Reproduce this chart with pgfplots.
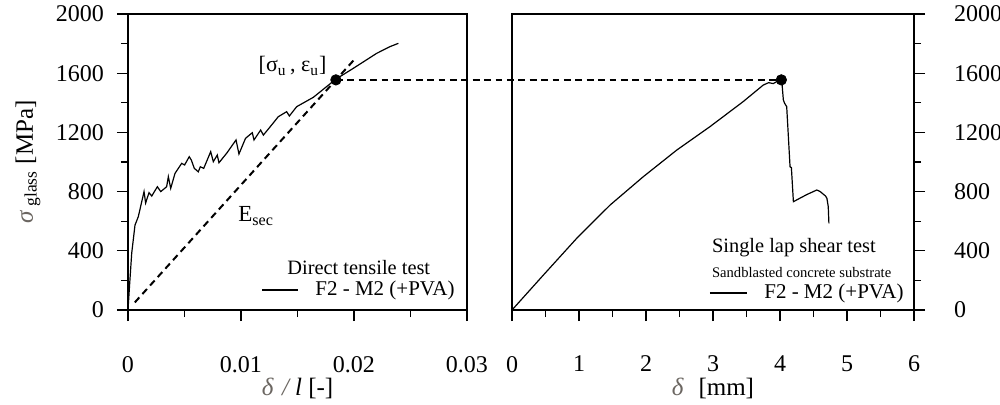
\documentclass[border=0pt]{standalone}
\usepackage{fontspec}
\setmainfont{Liberation Serif}
\usepackage{pgfplots}
\pgfplotsset{compat=1.18}
\definecolor{lblgray}{rgb}{0.42,0.40,0.38}
\begin{document}
\begin{tikzpicture}
\pgfplotsset{
  myax/.style={
    scale only axis,
    height=148pt,
    ymin=0, ymax=2000,
    ytick={0,400,...,2000},
    minor y tick num=1,
    tick align=outside,
    major tick length=5.5pt,
    minor tick length=3.5pt,
    axis line style={line width=0.6pt},
    every tick/.style={line width=0.6pt, black},
    /pgf/number format/assume math mode=true,
    /pgf/number format/1000 sep={},
    ticklabel style={font=\fontsize{12}{14}\selectfont},
    xticklabel style={yshift=-14pt},
    scaled x ticks=false,
    every axis x label/.style={at={(axis description cs:0.5,-0.2635)}, anchor=center, font=\fontsize{12.5}{14}\selectfont},
  }
}
\begin{axis}[myax,
  at={(0,0)}, anchor=south west,
  width=169.5pt,
  xmin=0, xmax=0.03,
  xtick={0,0.01,0.02,0.03},
  xticklabels={0,0.01,0.02,0.03},
  minor x tick num=1,
  xtick pos=left, ytick pos=left,
  yticklabel style={xshift=-3pt},
  xlabel={\textcolor{lblgray}{\textit{δ}\,\,\textit{/}}\,\textit{l} [-]},
  every axis y label/.style={at={(axis description cs:-0.295,0.5)}, anchor=center, rotate=90, font=\fontsize{12.5}{14}\selectfont},
  ylabel={\textcolor{lblgray}{\textit{σ}}\,\textsubscript{glass} [MPa]},
]
\addplot[black, line width=0.6pt] coordinates {
(0,0) (0.00005,60) (0.00015,180) (0.00033,385) (0.00062,574) (0.00091,630)
(0.00142,800) (0.00156,723) (0.00186,793) (0.0021,770) (0.0026,833)
(0.0029,800) (0.00342,833) (0.00357,901) (0.00378,822) (0.00416,923)
(0.00475,991) (0.00501,980) (0.00542,1036) (0.0056,1014) (0.00587,957)
(0.00622,934) (0.0064,968) (0.0067,957) (0.00732,1070) (0.00755,1002)
(0.0079,1047) (0.00805,995) (0.00873,1059) (0.00956,1149) (0.00982,1054)
(0.0104,1160) (0.011,1198) (0.01115,1149) (0.01174,1216) (0.01198,1182)
(0.01271,1250) (0.0133,1306) (0.01404,1340) (0.01428,1311) (0.01493,1374)
(0.0164,1437) (0.01838,1559) (0.01994,1633) (0.022,1734) (0.0232,1780) (0.02393,1802)
};
\addplot[black, line width=1pt, dash pattern=on 3.4pt off 2.3pt] coordinates {
(0.0006,51) (0.02,1690)
};
\addplot[only marks, mark=*, mark size=2.6pt, black] coordinates {(0.0184,1555)};
\coordinate (uL) at (axis cs:0.0184,1555);
\node[anchor=base west, inner sep=0, font=\fontsize{11.5}{12}\selectfont] at (axis cs:0.00973,595) {E\textsubscript{sec}};
\node[anchor=base west, inner sep=0, font=\fontsize{11}{12}\selectfont] at (axis cs:0.01153,1610) {[σ\textsubscript{u}\,, ε\textsubscript{u}]};
\node[anchor=west, inner sep=0, font=\fontsize{10.2}{12}\selectfont] at (axis cs:0.01407,290) {Direct tensile test};
\node[anchor=west, inner sep=0, font=\fontsize{10.5}{12}\selectfont] at (axis cs:0.01655,135) {F2 - M2 (+PVA)};
\draw[black, line width=0.6pt] (axis cs:0.01186,135) -- (axis cs:0.01504,135);
\end{axis}
\begin{axis}[myax,
  at={(192pt,0)}, anchor=south west,
  width=201pt,
  xmin=0, xmax=6,
  xtick={0,1,...,6},
  minor x tick num=1,
  xtick pos=left, ytick pos=right,
  yticklabel pos=right,
  yticklabel style={xshift=11pt},
  xlabel={\textcolor{lblgray}{\textit{δ}}\,\, [mm]},
]
\addplot[black, line width=0.6pt] coordinates {
(0,0) (0.468,236) (0.965,484) (1.463,709) (1.96,901) (2.46,1081) (2.955,1239)
(3.45,1408) (3.75,1520) (3.83,1536) (3.9,1530) (3.95,1543) (4.0,1546)
(4.03,1530) (4.05,1419) (4.07,1396) (4.1,1374) (4.15,968) (4.17,962)
(4.2,732) (4.4,780) (4.55,811) (4.6,800) (4.68,770) (4.70,755) (4.72,700) (4.73,586)
};
\addplot[only marks, mark=*, mark size=2.6pt, black] coordinates {(4.02,1555)};
\coordinate (uR) at (axis cs:4.02,1555);
\node[anchor=west, inner sep=0, font=\fontsize{10.2}{12}\selectfont] at (axis cs:2.98,419) {Single lap shear test};
\node[anchor=west, inner sep=0, font=\fontsize{7.3}{8}\selectfont] at (axis cs:2.98,252) {Sandblasted concrete substrate};
\node[anchor=west, inner sep=0, font=\fontsize{10.5}{12}\selectfont] at (axis cs:3.76,115) {F2 - M2 (+PVA)};
\draw[black, line width=0.6pt] (axis cs:2.955,115) -- (axis cs:3.503,115);
\end{axis}
\draw[black, line width=1pt, dash pattern=on 3.4pt off 2.3pt] (uL) -- (uR);
\pgfresetboundingbox
\useasboundingbox (-64pt,-47pt) rectangle (436pt,155pt);
\end{tikzpicture}
\end{document}
